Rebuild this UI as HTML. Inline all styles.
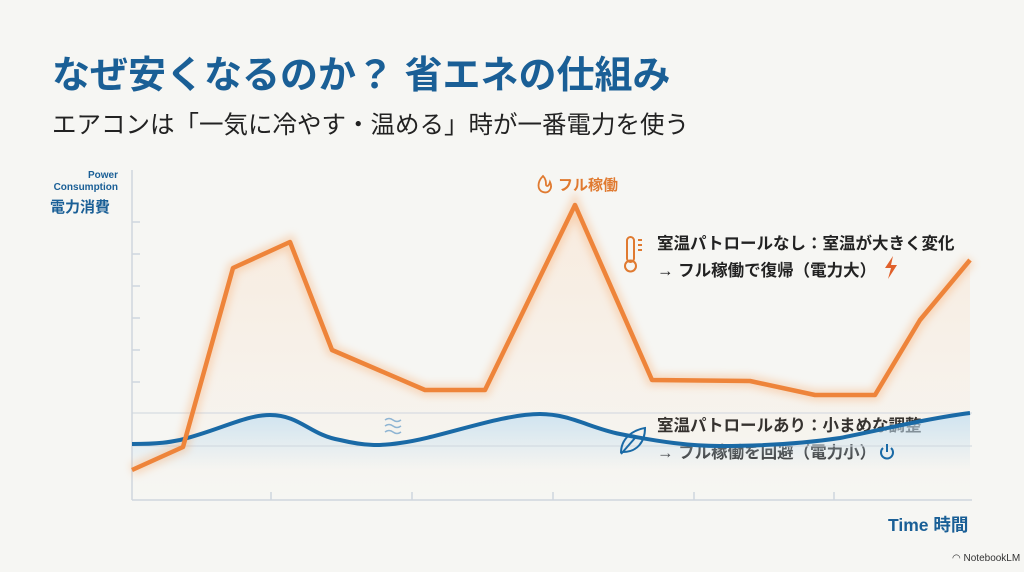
<!DOCTYPE html>
<html><head><meta charset="utf-8"><style>
body{margin:0;width:1024px;height:572px;background:#f6f6f3;font-family:"Liberation Sans","Noto Sans CJK JP",sans-serif;overflow:hidden;position:relative}
.t{position:absolute;white-space:nowrap}
</style></head><body>
<div class="t" style="left:52px;top:44px;font-size:38px;font-weight:bold;color:#1a5f96">なぜ安くなるのか？ 省エネの仕組み</div>
<div class="t" style="left:52px;top:106px;font-size:24.5px;color:#222">エアコンは「一気に冷やす・温める」時が一番電力を使う</div>
<div class="t" style="left:48px;top:170px;width:70px;text-align:right;font-size:10px;font-weight:bold;color:#1a5f96;line-height:12px">Power<br>Consumption</div>
<div class="t" style="left:50px;top:196px;font-size:15px;font-weight:bold;color:#1a5f96">電力消費</div>
<div class="t" style="left:888px;top:512px;font-size:17.5px;font-weight:bold;color:#1a5f96">Time 時間</div>
<div class="t" style="left:558px;top:174px;font-size:15px;font-weight:bold;color:#e07a30">フル稼働</div>
<div class="t" style="left:657px;top:231px;font-size:16.5px;font-weight:bold;color:#222;line-height:27px">室温パトロールなし：室温が大きく変化<br>→ フル稼働で復帰（電力大）</div>
<div class="t" style="left:657px;top:413px;font-size:16.5px;font-weight:bold;color:#222;line-height:27px">室温パトロールあり：小まめな調整<br>→ フル稼働を回避（電力小）</div>
<div class="t" style="left:952px;top:553px;font-size:10px;color:#333">◠ NotebookLM</div>
<svg width="1024" height="572" style="position:absolute;left:0;top:0">
<defs>
<linearGradient id="og" x1="0" y1="0" x2="0" y2="1"><stop offset="0" stop-color="#fbd7b8" stop-opacity=".35"/><stop offset="1" stop-color="#fbd7b8" stop-opacity="0"/></linearGradient>
<linearGradient id="bg" x1="0" y1="0" x2="0" y2="1"><stop offset="0" stop-color="#c5e0f2" stop-opacity=".8"/><stop offset="1" stop-color="#c5e0f2" stop-opacity="0"/></linearGradient>
<filter id="bl"><feGaussianBlur stdDeviation="4"/></filter>
</defs>
<path d="M132 470 L183 447 L233 268 L290 242 L332 350 L425 390 L485 390 L575 205 L652 380 L750 381 L815 395 L875 395 L920 320 L970 260 L970 500 L132 500Z" fill="url(#og)"/>
<path d="M132 444 C160 444 170 442 180 440 C220 430 245 415 270 415 C300 415 310 435 340 440 C365 446 380 446 400 443 C440 438 500 414 540 414 C570 414 590 428 620 434 C660 442 690 446 720 446 C760 446 800 444 840 438 C880 430 930 418 970 413 L970 470 L132 470Z" fill="url(#bg)"/>
<g stroke="#cfd6de" stroke-width="1.5">
<line x1="132" y1="170" x2="132" y2="500"/><line x1="132" y1="500" x2="972" y2="500"/>
<line x1="132" y1="413" x2="972" y2="413" stroke-width="1"/><line x1="132" y1="446" x2="972" y2="446" stroke-width="1"/>
<line x1="132" y1="222" x2="140" y2="222"/><line x1="132" y1="254" x2="140" y2="254"/><line x1="132" y1="286" x2="140" y2="286"/><line x1="132" y1="318" x2="140" y2="318"/><line x1="132" y1="350" x2="140" y2="350"/><line x1="132" y1="382" x2="140" y2="382"/>
<line x1="271" y1="492" x2="271" y2="500"/><line x1="412" y1="492" x2="412" y2="500"/><line x1="553" y1="492" x2="553" y2="500"/><line x1="694" y1="492" x2="694" y2="500"/><line x1="834" y1="492" x2="834" y2="500"/>
</g>
<path d="M132 470 L183 447 L233 268 L290 242 L332 350 L425 390 L485 390 L575 205 L652 380 L750 381 L815 395 L875 395 L920 320 L970 260" fill="none" stroke="#f7a565" stroke-width="12" opacity=".35" filter="url(#bl)"/>
<path d="M132 444 C160 444 170 442 180 440 C220 430 245 415 270 415 C300 415 310 435 340 440 C365 446 380 446 400 443 C440 438 500 414 540 414 C570 414 590 428 620 434 C660 442 690 446 720 446 C760 446 800 444 840 438 C880 430 930 418 970 413" fill="none" stroke="#1a6aa6" stroke-width="4"/>
<path d="M132 470 L183 447 L233 268 L290 242 L332 350 L425 390 L485 390 L575 205 L652 380 L750 381 L815 395 L875 395 L920 320 L970 260" fill="none" stroke="#ee843a" stroke-width="4.5" stroke-linejoin="round"/>
<g stroke="#8fb5d3" stroke-width="1.5" fill="none"><path d="M385 420 q4 -3 8 0 t8 0"/><path d="M385 426 q4 -3 8 0 t8 0"/><path d="M385 432 q4 -3 8 0 t8 0"/></g>
<path d="M543 176 c-6 6 -6 14 0 16 c6 2 10 -4 7 -10 c-1 4 -3 5 -4 3 c0 -3 0 -6 -3 -9z" fill="none" stroke="#e07a30" stroke-width="1.8"/>
<g stroke="#e07a30" stroke-width="2" fill="none"><rect x="627" y="237" width="7" height="25" rx="3.5"/><circle cx="630.5" cy="266" r="5.5"/><line x1="638" y1="240" x2="642" y2="240"/><line x1="638" y1="245" x2="642" y2="245"/><line x1="638" y1="250" x2="642" y2="250"/></g>
<path d="M893 256 l-8 12 h6 l-3 11 l9 -14 h-6 z" fill="#e0602a"/>
<path d="M621 453 c0 -15 12 -23 24 -25 c0 14 -8 24 -22 24 m-2 2 l14 -16" fill="none" stroke="#1a6aa6" stroke-width="2"/>
<path d="M883 448 a6 6 0 1 0 8 0 M887 444 v8" fill="none" stroke="#1a6aa6" stroke-width="2"/>
</svg>
</body></html>
